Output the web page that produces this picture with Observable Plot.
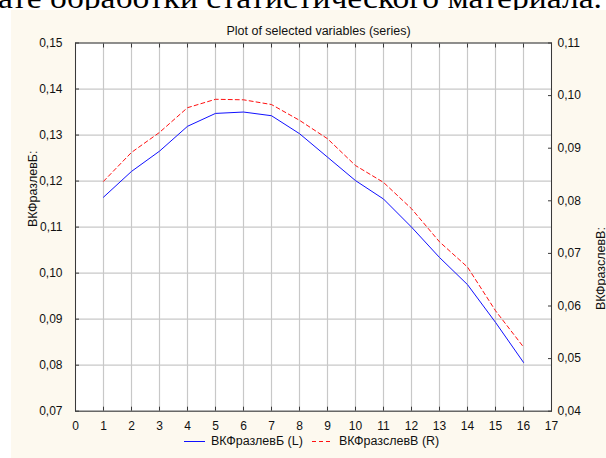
<!DOCTYPE html>
<html>
<head>
<meta charset="utf-8">
<script src="https://cdn.jsdelivr.net/npm/d3@7"></script>
<script src="https://cdn.jsdelivr.net/npm/@observablehq/plot@0.6"></script>
<style>
  html, body { margin: 0; padding: 0; background: #ffffff; }
  #wrap { position: relative; width: 606px; height: 458px; overflow: hidden; font-family: "Liberation Sans", Arial, sans-serif; }
  #doctext { position: absolute; left: 0; top: 0; display: block; }
  #panel { position: absolute; left: 11px; top: 10px; width: 595px; height: 448px; background: #fdf9ef; }
  #chart { position: absolute; left: 0; top: 0; }
  #legend { position: absolute; top: 434px; left: 184px; font-size: 12.5px; color: #111; display: flex; align-items: center; white-space: nowrap; }
  #legend svg { display: block; }
</style>
</head>
<body>
<div id="wrap">
  <svg id="doctext" width="606" height="10" xmlns="http://www.w3.org/2000/svg">
    <text x="-2" y="7.5" font-family="'Liberation Serif', 'Times New Roman', Times, serif" font-size="30" textLength="604" lengthAdjust="spacingAndGlyphs" fill="#000">ате обработки статистического материала.</text>
  </svg>
  <div id="panel"></div>
  <div id="chart"></div>
  <div id="legend"></div>
</div>
<script>
// ---- data ----
const xValues = [1, 2, 3, 4, 5, 6, 7, 8, 9, 10, 11, 12, 13, 14, 15, 16];
const seriesL = [0.1165, 0.1221, 0.1265, 0.1319, 0.1347, 0.1350, 0.1342, 0.1303, 0.1252, 0.1201, 0.1161, 0.1100, 0.1034, 0.0975, 0.0893, 0.0806];
const seriesR = [0.0837, 0.0892, 0.0930, 0.0977, 0.0993, 0.0992, 0.0983, 0.0953, 0.0918, 0.0867, 0.0835, 0.0785, 0.0722, 0.0674, 0.0591, 0.0522];
const xTicks = [0, 1, 2, 3, 4, 5, 6, 7, 8, 9, 10, 11, 12, 13, 14, 15, 16, 17];
const leftTicks = [0.07, 0.08, 0.09, 0.10, 0.11, 0.12, 0.13, 0.14, 0.15];
const rightTicks = [0.04, 0.05, 0.06, 0.07, 0.08, 0.09, 0.10, 0.11];
const nameL = "ВКФразлевБ";
const nameR = "ВКФразслевВ";
const titleText = "Plot of selected variables (series)";

// ---- scales ----
const leftDomain = [0.07, 0.15];
const rightDomain = [0.04, 0.11];
const toLeft = v => leftDomain[0] + (v - rightDomain[0]) * (leftDomain[1] - leftDomain[0]) / (rightDomain[1] - rightDomain[0]);
const toRight = v => rightDomain[0] + (v - leftDomain[0]) * (rightDomain[1] - rightDomain[0]) / (leftDomain[1] - leftDomain[0]);
const fmt = v => v.toFixed(2).replace(".", ",");

const dataL = xValues.map((x, i) => ({x, y: seriesL[i]}));
const dataR = xValues.map((x, i) => ({x, y: toLeft(seriesR[i])}));
const rightPos = rightTicks.map(toLeft);

const axisColor = "#3a3a3a";
const gridColor = "#c8c8c8";
const tickFont = 12;

const chart = Plot.plot({
  width: 606,
  height: 458,
  marginLeft: 75,
  marginRight: 55,
  marginTop: 42.5,
  marginBottom: 47.3,
  style: {background: "transparent", fontFamily: "'Liberation Sans', Arial, sans-serif", fontSize: "12px", color: "#111"},
  x: {domain: [0, 17]},
  y: {domain: leftDomain},
  marks: [
    Plot.frame({fill: "white", stroke: null}),
    Plot.gridX(xTicks, {stroke: gridColor, strokeOpacity: 1, strokeWidth: 1.2}),
    Plot.gridY(leftTicks, {stroke: gridColor, strokeOpacity: 1, strokeWidth: 1.2}),
    Plot.line(dataL, {x: "x", y: "y", stroke: "#1010ff", strokeWidth: 1}),
    Plot.line(dataR, {x: "x", y: "y", stroke: "#ff1010", strokeWidth: 1, strokeDasharray: "4,3"}),
    Plot.frame({stroke: axisColor, strokeWidth: 1}),
    // inward tick marks
    Plot.axisX(xTicks, {anchor: "bottom", tickSize: 4, dy: -4, text: null, stroke: axisColor, label: null}),
    Plot.axisX(xTicks, {anchor: "top", tickSize: 4, dy: 4, text: null, stroke: axisColor, label: null}),
    Plot.axisY(leftTicks, {anchor: "left", tickSize: 4, dx: 4, text: null, stroke: axisColor, label: null}),
    Plot.axisY(rightPos, {anchor: "right", tickSize: 4, dx: -4, text: null, stroke: axisColor, label: null}),
    // tick labels
    Plot.axisX(xTicks, {anchor: "bottom", tickSize: 0, tickPadding: 10.5, tickFormat: d => String(d), label: null, fill: "#111", fontSize: tickFont}),
    Plot.axisY(leftTicks, {anchor: "left", tickSize: 0, tickPadding: 13, tickFormat: fmt, label: null, fill: "#111", fontSize: tickFont}),
    Plot.axisY(rightPos, {anchor: "right", tickSize: 0, tickPadding: 6, tickFormat: d => fmt(toRight(d)), label: null, fill: "#111", fontSize: tickFont}),
    // axis titles
    Plot.text([nameL + ":"], {frameAnchor: "left", dx: -43, rotate: -90, fill: "#111", fontSize: 12.5}),
    Plot.text([nameR + ":"], {frameAnchor: "right", dx: 49, rotate: -90, fill: "#111", fontSize: 12.5}),
    Plot.text([titleText], {frameAnchor: "top", dy: -16.5, dx: 5, fill: "#111", fontSize: 12.5})
  ]
});
document.getElementById("chart").appendChild(chart);

// legend
const legend = document.getElementById("legend");
function swatch(color, dash) {
  const ns = "http://www.w3.org/2000/svg";
  const s = document.createElementNS(ns, "svg");
  s.setAttribute("width", 22); s.setAttribute("height", 10);
  const l = document.createElementNS(ns, "line");
  l.setAttribute("x1", 0); l.setAttribute("x2", 21); l.setAttribute("y1", 5.5); l.setAttribute("y2", 5.5);
  l.setAttribute("stroke", color); l.setAttribute("stroke-width", 1);
  if (dash) l.setAttribute("stroke-dasharray", dash);
  s.appendChild(l);
  return s;
}
function item(color, dash, label, gap) {
  const span = document.createElement("span");
  span.style.display = "flex"; span.style.alignItems = "center"; span.style.marginRight = gap + "px";
  span.appendChild(swatch(color, dash));
  const t = document.createElement("span");
  t.textContent = label; t.style.marginLeft = "5px";
  span.appendChild(t);
  return span;
}
legend.appendChild(item("#1010ff", null, nameL + " (L)", 9));
legend.appendChild(item("#ff1010", "4,3", nameR + " (R)", 0));
</script>
</body>
</html>
